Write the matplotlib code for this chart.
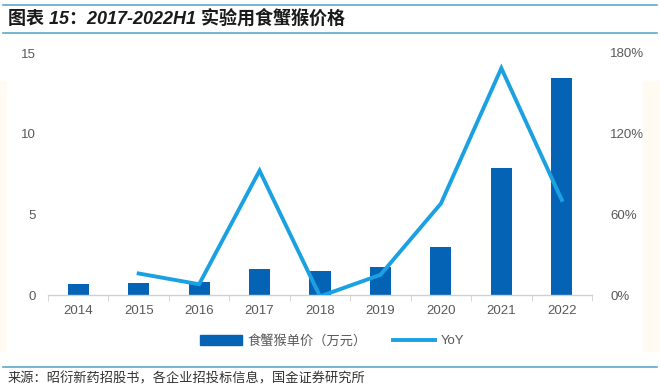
import matplotlib
matplotlib.use("Agg")
import matplotlib.pyplot as plt
import numpy as np
from matplotlib.patches import Rectangle
from matplotlib.lines import Line2D
from matplotlib.ticker import FixedLocator

plt.rcParams['font.family'] = ['Liberation Sans', 'Noto Sans CJK SC', 'DejaVu Sans']

years = ['2014', '2015', '2016', '2017', '2018', '2019', '2020', '2021', '2022']
price = [0.66, 0.76, 0.83, 1.59, 1.51, 1.75, 2.96, 7.89, 13.47]
yoy_years = ['2015', '2016', '2017', '2018', '2019', '2020', '2021', '2022']
yoy = [16, 8, 92.5, -1, 15, 68, 168.7, 70.7]

left_ticks = [0, 5, 10, 15]
right_ticks = [0, 60, 120, 180]

bar_color = '#0563B5'
line_color = '#1BA1E2'
tick_color = '#595959'

fig = plt.figure(figsize=(6.6, 3.91), dpi=100)
W, H = 660, 391

# faint cream edges
fig.patches.append(Rectangle((0, 40 / H), 6 / W, 270 / H, transform=fig.transFigure,
                             color='#FFFBF2', zorder=0))
fig.patches.append(Rectangle((643 / W, 40 / H), 17 / W, 270 / H, transform=fig.transFigure,
                             color='#FFFBF2', zorder=0))

ax = fig.add_axes([48 / W, 1 - 295 / H, (592 - 48) / W, (295 - 53) / H])
ax2 = ax.twinx()

x = np.arange(len(years))
ax.bar(x, price, width=0.35, color=bar_color, zorder=2)
xi = [years.index(y) for y in yoy_years]
ax2.plot(xi, yoy, color=line_color, lw=2.8, solid_joinstyle='miter', zorder=3)

ax.set_xlim(-0.5, len(years) - 0.5)
ax.set_ylim(0, 15)
ax2.set_ylim(0, 180)
ax.set_yticks(left_ticks)
ax.set_yticklabels([str(t) for t in left_ticks])
ax2.set_yticks(right_ticks)
ax2.set_yticklabels([f'{t}%' for t in right_ticks])

ax.set_xticks(x)
ax.set_xticklabels(years)
ax.xaxis.set_minor_locator(FixedLocator(np.arange(-0.5, len(years), 1.0)))

for a in (ax, ax2):
    for s in ['top', 'left', 'right', 'bottom']:
        a.spines[s].set_visible(False)
ax.spines['bottom'].set_visible(True)
ax.spines['bottom'].set_color('#D0D0D0')
ax.spines['bottom'].set_linewidth(1.0)

ax.tick_params(axis='x', which='major', length=0, pad=7, labelsize=9.5, labelcolor=tick_color)
ax.tick_params(axis='x', which='minor', length=4, color='#D0D0D0', direction='out')
ax.tick_params(axis='y', length=0, pad=9, labelsize=9.5, labelcolor=tick_color)
ax2.tick_params(axis='y', length=0, pad=13, labelsize=9.5, labelcolor=tick_color)

# legend
handles = [Rectangle((0, 0), 1, 1, color=bar_color),
           Line2D([0], [0], color=line_color, lw=2.8)]
fig.legend(handles, ['食蟹猴单价（万元）', 'YoY'], loc='center', bbox_to_anchor=(332 / W, 1 - 341 / H),
           ncol=2, frameon=False, fontsize=9.5, handlelength=3.2, handleheight=0.8,
           columnspacing=2.0, handletextpad=0.4, labelcolor=tick_color)

# title and lines
line_c = '#5DA9C9'
fig.add_artist(Line2D([0.005, 0.995], [1 - 5 / H, 1 - 5 / H], color=line_c, lw=1.2))
fig.add_artist(Line2D([0.005, 0.995], [1 - 33 / H, 1 - 33 / H], color=line_c, lw=1.2))
fig.text(8 / W, 1 - 19 / H, '图表 15：2017-2022H1 实验用食蟹猴价格', fontsize=13, fontweight='bold',
         style='italic', va='center', ha='left', color='#1A1A1A')

fig.add_artist(Line2D([0.005, 0.995], [1 - 367 / H, 1 - 367 / H], color=line_c, lw=1.2))
fig.text(8 / W, 1 - 379 / H, '来源：昭衍新药招股书，各企业招投标信息，国金证券研究所', fontsize=9.5,
         va='center', ha='left', color='#333333')

fig.savefig('out.png', dpi=100)
